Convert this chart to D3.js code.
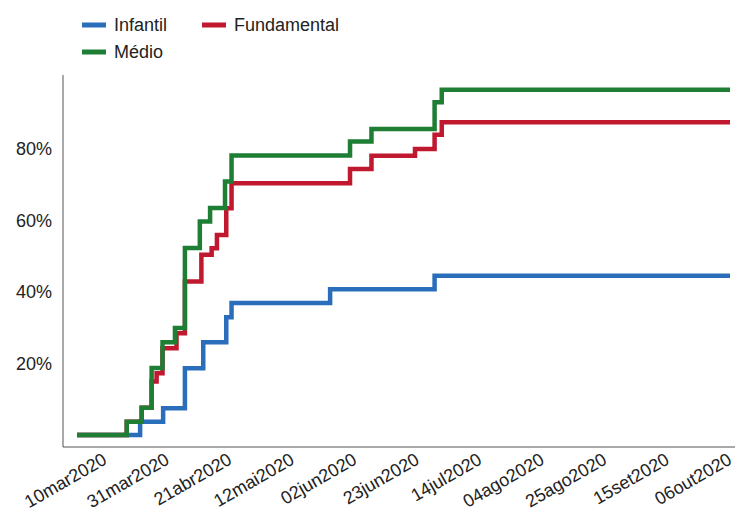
<!DOCTYPE html>
<html><head><meta charset="utf-8">
<script src="https://cdn.jsdelivr.net/npm/d3@7"></script>
<style>body{margin:0;background:#fff}text{font-family:"Liberation Sans",Arial,sans-serif}</style>
</head><body>
<svg id="c" width="735" height="518"></svg>
<script>
// days since 10mar2020, step values in %
var seriesNames = ["Infantil","Fundamental","Médio"];
var seriesColors = ["#2a6ebb","#c0182f","#1e7e34"];
var infantilDays = [0,20.3,27.7,34.7,40.6,48,49.7,81.4,115,210];
var infantilVals = [0,3.7,7.5,18.7,26,33,37,40.8,44.6,44.6];
var fundDays = [0,16,20.8,24,25.6,27.5,32,34.7,40,43.3,45,48,49.7,87.8,94.7,108.7,115,117.3,210];
var fundVals = [0,3.7,7.6,15,17.3,24.3,28.5,43,50.5,52.3,56,63.5,70.5,74.5,78.2,80.1,84.1,87.6,87.6];
var medioDays = [0,16,20.8,24,27.5,31.5,34.7,39.5,42.8,47.6,49.7,87.8,94.7,115,117.3,210];
var medioVals = [0,3.7,7.6,18.8,26,30,52.4,59.8,63.6,71,78.3,82.2,85.7,93.2,96.7,96.7];
var tickLabels = ["10mar2020","31mar2020","21abr2020","12mai2020","02jun2020","23jun2020","14jul2020","04ago2020","25ago2020","15set2020","06out2020"];
var yTicks = [20,40,60,80];

var svg = d3.select("#c");
var x = d3.scaleLinear().domain([0,210]).range([77,730]);
var y = d3.scaleLinear().domain([0,100]).range([435,78]);
var xl = d3.scalePoint().domain(tickLabels).range([108,733]);

svg.append("line").attr("x1",63).attr("x2",63).attr("y1",75).attr("y2",447).attr("stroke","#555");
svg.append("line").attr("x1",63).attr("x2",735).attr("y1",447).attr("y2",447).attr("stroke","#555");

svg.selectAll(".yl").data(yTicks).enter().append("text")
  .attr("x",52).attr("y",function(d){return y(d)+6;}).attr("text-anchor","end")
  .attr("font-size",18).attr("fill","#222").text(function(d){return d+"%";});

svg.selectAll(".xl").data(tickLabels).enter().append("text")
  .attr("transform",function(d){return "translate("+xl(d)+",463) rotate(-30)";})
  .attr("text-anchor","end").attr("font-size",18).attr("fill","#222")
  .text(function(d){return d;});

var line = d3.line().x(function(d){return x(d[0]);}).y(function(d){return y(d[1]);}).curve(d3.curveStepAfter);
var all = [[infantilDays,infantilVals],[fundDays,fundVals],[medioDays,medioVals]];
all.forEach(function(s,i){
  svg.append("path").datum(d3.zip(s[0],s[1])).attr("d",line)
    .attr("fill","none").attr("stroke",seriesColors[i]).attr("stroke-width",4.5);
});

var legPos = [[82,25],[202,25],[82,52]];
seriesNames.forEach(function(n,i){
  var p = legPos[i];
  svg.append("line").attr("x1",p[0]).attr("x2",p[0]+24).attr("y1",p[1]).attr("y2",p[1])
    .attr("stroke",seriesColors[i]).attr("stroke-width",5);
  svg.append("text").attr("x",p[0]+32).attr("y",p[1]+6).attr("font-size",18).attr("fill","#222").text(n);
});
</script>
</body></html>
